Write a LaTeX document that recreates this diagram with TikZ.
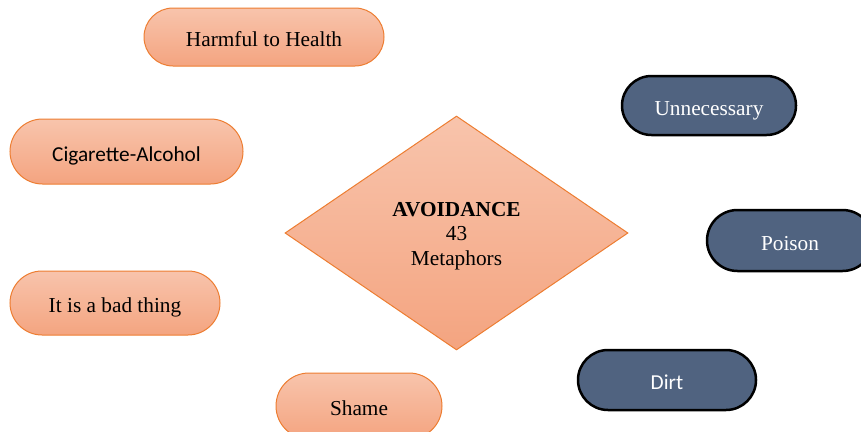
\documentclass[tikz,border=0pt]{standalone}
\usepackage{fontspec}
\setmainfont{Liberation Serif}
\newfontfamily\calibri{Carlito}
\usetikzlibrary{shapes.misc,shapes.geometric}
\definecolor{peachtop}{RGB}{248,196,172}
\definecolor{peachbot}{RGB}{244,164,128}
\definecolor{peachline}{RGB}{237,125,49}
\definecolor{slate}{RGB}{80,99,128}
\tikzset{
  peach/.style={rounded rectangle, draw=peachline, line width=1pt, top color=peachtop,
    bottom color=peachbot, inner sep=0pt, text height=19pt, text depth=0pt,
    font=\fontsize{21.3}{25}\selectfont},
  slatepill/.style={rounded rectangle, draw=black, line width=2.5pt, fill=slate,
    text=white, inner sep=0pt, text height=19pt, text depth=0pt,
    font=\fontsize{21.3}{25}\selectfont},
}
\begin{document}
\begin{tikzpicture}[x=1pt,y=-1pt]
\useasboundingbox (0,0) rectangle (861,431);
\clip (0,0) rectangle (861,431);
% centre
\node[diamond, draw=peachline, line width=1pt, top color=peachtop, bottom color=peachbot,
  minimum width=343pt, minimum height=234pt, aspect=1.466, inner sep=0pt, align=center,
  text height=64pt, text depth=0pt,
  font=\fontsize{21.3}{24.5}\selectfont] (avoid) at (456.5,233) {\textbf{AVOIDANCE}\\43\\Metaphors};
% left side
\foreach \name/\x/\y/\w/\h/\txt in {harm/264/37/240/58/Harmful to Health,
  cig/126.5/151.5/233/65/{\calibri Cigarette-Alcohol},
  bad/115/303/210/64/It is a bad thing,
  shame/359/406/166/66/Shame}{
\node[peach, minimum width=\w pt, minimum height=\h pt] (\name) at (\x,\y) {\txt};
}
% right side
\foreach \name/\x/\y/\w/\h/\txt in {unnec/709/105.5/174/59/Unnecessary,
  poison/790/240.5/166/61/Poison,
  dirt/667/380/178/60/{\calibri Dirt}}{
\node[slatepill, minimum width=\w pt, minimum height=\h pt] (\name) at (\x,\y) {\txt};
}
\end{tikzpicture}
\end{document}
